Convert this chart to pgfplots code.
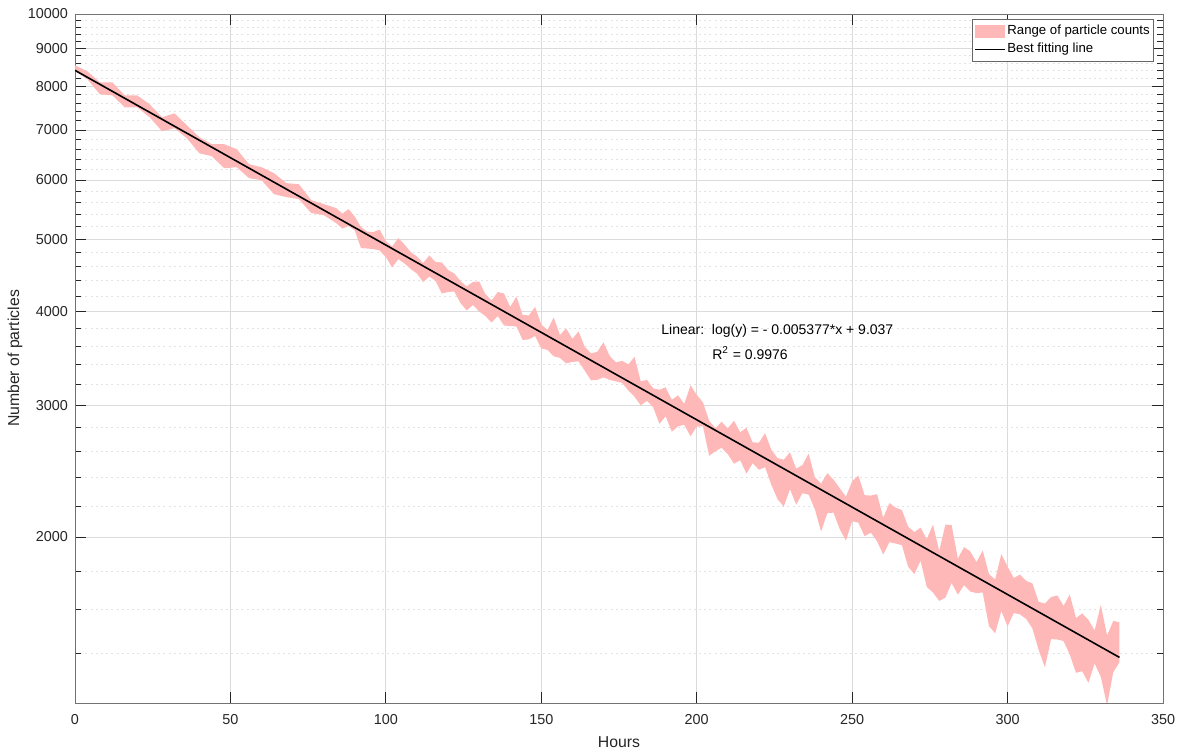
\documentclass[border=0pt]{standalone}
\usepackage{pgfplots}
\usepackage{pgfplotstable}
\pgfplotsset{compat=1.18}
\usepgfplotslibrary{fillbetween}
\usepackage{fontspec}
\setmainfont{Liberation Sans}

\definecolor{bandpink}{RGB}{255,184,184}
\definecolor{axgray}{RGB}{38,38,38}

% range of particle counts: upper and lower envelope per time step
\pgfplotstableread{
h upper lower
0 8539 8383
4 8383 8179
8 8104 7811
12 8105 7787
16 7787 7505
20 7787 7505
24 7575 7278
28 7278 6971
32 7368 7036
36 7101 6823
40 6844 6515
44 6699 6456
48 6699 6222
52 6597 6241
56 6299 6034
60 6242 5997
64 6128 5744
68 5942 5692
72 5924 5657
76 5640 5419
80 5571 5386
84 5503 5255
86 5411 5167
88 5486 5207
90 5361 5135
92 5191 4866
94 5119 4859
96 5112 4851
98 5151 4829
100 4972 4733
102 4889 4583
104 5019 4705
106 4919 4640
108 4807 4562
110 4741 4499
112 4647 4383
114 4756 4458
116 4662 4397
118 4655 4231
120 4548 4251
122 4500 4257
124 4397 4109
126 4324 4016
128 4384 4084
130 4391 4004
132 4225 3949
134 4141 3870
136 4251 3949
138 4232 3835
140 4060 3829
142 4193 3823
144 3961 3668
146 3955 3674
148 4060 3713
150 3847 3573
152 3783 3557
154 3931 3487
156 3725 3471
158 3800 3412
160 3680 3428
162 3766 3433
164 3590 3335
166 3519 3239
168 3536 3244
170 3641 3269
172 3492 3244
174 3423 3229
176 3439 3214
178 3402 3141
180 3482 3079
182 3229 2999
184 3244 3041
186 3160 2981
188 3146 2833
190 3170 2900
192 3051 2765
194 3093 2812
196 3013 2825
198 3190 2727
200 3098 2808
202 3027 2812
204 2860 2568
206 2795 2604
208 2851 2632
210 2795 2580
212 2860 2506
214 2761 2533
216 2799 2430
218 2677 2510
220 2673 2460
222 2753 2479
224 2616 2349
226 2549 2247
228 2537 2196
230 2596 2317
232 2468 2209
234 2495 2289
236 2585 2278
238 2404 2179
240 2357 2034
242 2434 2152
244 2386 2156
246 2324 2049
248 2264 1978
250 2375 2100
252 2416 2090
254 2275 2005
256 2272 2027
258 2282 1975
260 2123 1895
262 2220 1969
264 2189 1960
266 2173 1951
268 2065 1826
270 2030 1784
272 2059 1860
274 1987 1715
276 2078 1686
278 1915 1643
280 2078 1660
282 2075 1736
284 1872 1675
286 1939 1725
288 1913 1691
290 1852 1683
292 1919 1686
294 1785 1521
296 1755 1487
298 1898 1593
300 1826 1519
302 1763 1583
304 1782 1576
306 1747 1554
308 1734 1509
310 1638 1413
312 1630 1339
314 1663 1461
316 1671 1459
318 1618 1452
320 1676 1393
322 1559 1317
324 1581 1323
326 1550 1277
328 1500 1355
330 1623 1300
332 1477 1191
334 1545 1320
336 1538 1360
}\bandtable

\begin{document}
\begin{tikzpicture}
\begin{semilogyaxis}[
  scale only axis,
  width=544pt, height=344.5pt,
  at={(0,0)}, anchor=south west,
  xmin=0, xmax=350, ymin=1200, ymax=10000,
  xtick={0,50,...,350},
  xticklabels={0,50,100,150,200,250,300,350},
  ytick={2000,3000,4000,5000,6000,7000,8000,9000,10000},
  yticklabels={2000,3000,4000,5000,6000,7000,8000,9000,10000},
  minor ytick={1400,1600,1800,2200,2400,2600,2800,3200,3400,3600,3800,4200,4400,4600,4800,5200,5400,5600,5800,6200,6400,6600,6800,7200,7400,7600,7800,8200,8400,8600,8800,9200,9400,9600,9800},
  grid=both,
  major grid style={draw=black!14, line width=0.4pt},
  minor grid style={draw=black!11, dash pattern=on 1pt off 1.6pt, line width=0.4pt},
  tick align=inside,
  xtick pos=both, ytick pos=both,
  major tick length=5.5pt, minor tick length=3pt,
  every tick/.style={axgray, line width=0.4pt},
  axis line style={draw=black!55, line width=0.4pt},
  every tick label/.append style={font=\fontsize{7.2}{8.6}\selectfont, text=axgray},
  xticklabel style={yshift=-2pt},
  xlabel={Hours}, ylabel={Number of particles},
  label style={font=\fontsize{7.9}{9.5}\selectfont, text=axgray},
  every axis x label/.append style={at={(axis description cs:0.5,-0.0566)}, anchor=center},
  every axis y label/.append style={at={(axis description cs:-0.0551,0.5)}, anchor=center},
  legend style={at={(axis description cs:0.9917,0.9927)}, anchor=north east,
    draw=black!60, fill=white, line width=0.4pt,
    font=\fontsize{6.6}{8}\selectfont, text=black,
    inner xsep=1pt, inner ysep=2pt, row sep=0.9pt,
    nodes={inner sep=0.9pt},
    cells={anchor=west}},
]
\addplot[draw=none, name path=up, forget plot] table[x=h, y=upper] {\bandtable};
\addplot[draw=none, name path=lo, forget plot] table[x=h, y=lower] {\bandtable};
\addplot[fill=bandpink, draw=none,
  legend image code/.code={\fill[bandpink] (0pt,-3.2pt) rectangle (15pt,3.2pt);}]
  fill between[of=up and lo];
\addlegendentry{Range of particle counts}
% best fit: log(y) = -0.005377*x + 9.037
\addplot[black, line width=0.8pt,
  legend image code/.code={\draw[black, line width=0.5pt] (0pt,0pt) -- (15pt,0pt);}]
  coordinates {(0,8408.5) (336,1380.7)};
\addlegendentry{Best fitting line}
\node[anchor=west, inner sep=0pt, font=\fontsize{7}{8.4}\selectfont, text=black]
  at (axis cs:188.5,3770) {Linear:\ \ log(y) = - 0.005377*x + 9.037};
\node[anchor=west, inner sep=0pt, font=\fontsize{7}{8.4}\selectfont, text=black]
  at (axis cs:204.9,3523) {R\textsuperscript{2} = 0.9976};
\end{semilogyaxis}
\pgfresetboundingbox
\path[use as bounding box] (-37.5pt,-25pt) rectangle (555.5pt,351.5pt);
\end{tikzpicture}
\end{document}
